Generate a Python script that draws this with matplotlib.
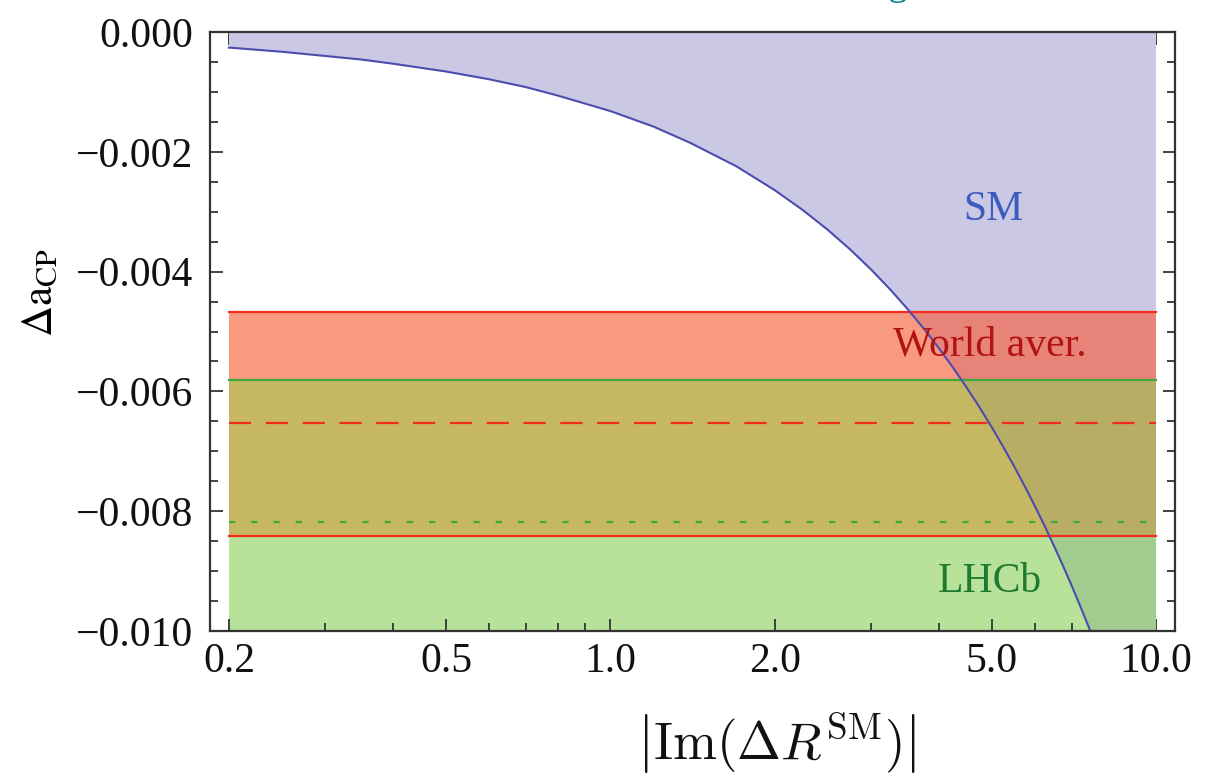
import matplotlib
matplotlib.use("Agg")
import matplotlib.pyplot as plt
from matplotlib.patches import Rectangle
from matplotlib.ticker import FixedLocator, NullFormatter, FixedFormatter

# ---------------- data ----------------
sm_x = [0.2, 0.25, 0.3, 0.35, 0.4, 0.5, 0.6, 0.7, 0.8, 1.0, 1.2, 1.4,
        1.7, 2.0, 2.25, 2.5, 2.75, 3.0, 3.25, 3.5, 3.75, 4.0, 4.25,
        4.5, 4.75, 5.0, 5.25, 5.5, 5.75, 6.0, 6.25, 6.5, 6.75, 7.0,
        7.25, 7.5, 7.75, 8.0, 9.0, 10.0]
sm_y = [-0.00026, -0.00033, -0.00040, -0.00046, -0.00053, -0.00066,
        -0.00079, -0.00092, -0.00106, -0.00132, -0.00158, -0.00185,
        -0.00224, -0.00264, -0.00297, -0.00330, -0.00363, -0.00396,
        -0.00429, -0.00462, -0.00495, -0.00528, -0.00561, -0.00594,
        -0.00627, -0.00660, -0.00693, -0.00726, -0.00759, -0.00792,
        -0.00825, -0.00858, -0.00891, -0.00924, -0.00957, -0.00990,
        -0.01023, -0.01056, -0.01188, -0.01320]

band_x = [0.2, 10.0]
world_center = -0.00653
world_low, world_high = -0.00841, -0.00467
lhcb_center = -0.00818
lhcb_low, lhcb_high = -0.01060, -0.00581

xticks_major = [0.2, 0.5, 1.0, 2.0, 5.0, 10.0]
xtick_labels = ["0.2", "0.5", "1.0", "2.0", "5.0", "10.0"]
xticks_minor = [0.3, 0.4, 0.6, 0.7, 0.8, 0.9, 3.0, 4.0, 6.0, 7.0, 8.0, 9.0]
yticks_major = [0.0, -0.002, -0.004, -0.006, -0.008, -0.010]
ytick_labels = ["0.000", "\u22120.002", "\u22120.004", "\u22120.006",
                "\u22120.008", "\u22120.010"]
yticks_minor = [-0.0005, -0.001, -0.0015, -0.0025, -0.003, -0.0035,
                -0.0045, -0.005, -0.0055, -0.0065, -0.007, -0.0075,
                -0.0085, -0.009, -0.0095]

# ---------------- figure ----------------
plt.rcParams['font.family'] = ['Liberation Serif', 'DejaVu Serif']
plt.rcParams['mathtext.fontset'] = 'cm'

W, H = 1207, 780
fig = plt.figure(figsize=(W/100, H/100), dpi=100)
ax = fig.add_axes([210/W, 1-631/H, (1175-210)/W, (631-32)/H])
ax.set_xscale('log')
ax.set_xlim(0.1846, 10.83)
ax.set_ylim(-0.010, 0.0)
ybot, ytop = ax.get_ylim()

# region colours: (plain colour, colour where the SM region overlaps)
regions = [
    (world_high, 0.0, None, '#cac8e5'),             # above bands
    (lhcb_high, world_high, '#f99a80', '#e8837a'),  # world aver. only
    (world_low, lhcb_high, '#c6b862', '#b8ad64'),   # both bands
    (lhcb_low, world_low, '#b8e29a', '#a2cb90'),    # LHCb only
]
for lo, hi, c_plain, c_sm in regions:
    if c_plain is not None:
        ax.fill_between(band_x, lo, hi, color=c_plain, lw=0, zorder=1)
    poly = ax.fill_between(sm_x, sm_y, 0.0, color=c_sm, lw=0, zorder=2)
    lo_c, hi_c = max(lo, ybot), min(hi, ytop)
    clip = Rectangle((band_x[0], lo_c), band_x[1]-band_x[0], hi_c-lo_c,
                     transform=ax.transData)
    poly.set_clip_path(clip)

# band edges and central values
red = '#f42a1c'
green = '#3aaa3a'
ax.plot(band_x, [world_high]*2, color=red, lw=1.6, zorder=5)
ax.plot(band_x, [world_low]*2, color=red, lw=1.6, zorder=5)
ax.plot(band_x, [lhcb_high]*2, color=green, lw=1.6, zorder=5)
ax.plot(band_x, [world_center]*2, color=red, lw=1.6, zorder=5,
        linestyle=(0, (16.0/1.6, 10.5/1.6)))
ax.plot(band_x, [lhcb_center]*2, color=green, lw=1.6, zorder=5,
        linestyle=(0, (4.5/1.6, 11.5/1.6)))

# SM curve
ax.plot(sm_x, sm_y, color='#4c4cae', lw=1.5, zorder=6)

# labels inside (positions in pixels from top-left)
def px(x, y):
    return ax.transAxes.inverted().transform(
        fig.transFigure.transform((x/W, 1-y/H)))

for (x, y), s, c in [((993, 210), "SM", '#3a5cbf'),
                     ((990, 345), "World aver.", '#b31212'),
                     ((990, 582), "LHCb", '#1e7a30')]:
    ax.text(*px(x, y), s, transform=ax.transAxes, color=c, fontsize=30,
            ha='center', va='center', zorder=7)

# ticks
ax.xaxis.set_major_locator(FixedLocator(xticks_major))
ax.xaxis.set_major_formatter(FixedFormatter(xtick_labels))
ax.xaxis.set_minor_locator(FixedLocator(xticks_minor))
ax.xaxis.set_minor_formatter(NullFormatter())
ax.yaxis.set_major_locator(FixedLocator(yticks_major))
ax.yaxis.set_major_formatter(FixedFormatter(ytick_labels))
ax.yaxis.set_minor_locator(FixedLocator(yticks_minor))

frame_col = '#333333'
ax.tick_params(which='both', direction='in', top=True, right=True,
               color=frame_col, width=1.3, labelsize=30, labelcolor='#111111')
ax.tick_params(which='major', length=9)
ax.tick_params(which='minor', length=5.5)
ax.tick_params(axis='x', which='major', pad=8)
ax.tick_params(axis='y', which='major', pad=12)
for s in ax.spines.values():
    s.set_color(frame_col)
    s.set_linewidth(1.6)
    s.set_zorder(10)

ax.set_ylabel(r'$\Delta\mathrm{a}_{\mathrm{CP}}$', fontsize=31,
              math_fontfamily='stix')
ax.yaxis.set_label_coords(*px(42, 292))
ax.yaxis.label.set_va('center')

# x label
fig.text(777/W, 1-760/H,
         r'$\left|\mathrm{Im}(\Delta R^{\mathrm{SM}})\right|$',
         fontsize=38, ha='center', va='baseline', color='#111111')

# clipped teal glyph at the very top edge
fig.text(897/W, 1 + 6/H, "g", color='#138585', fontsize=29,
         ha='center', va='baseline')

fig.savefig("out.png", dpi=100)
